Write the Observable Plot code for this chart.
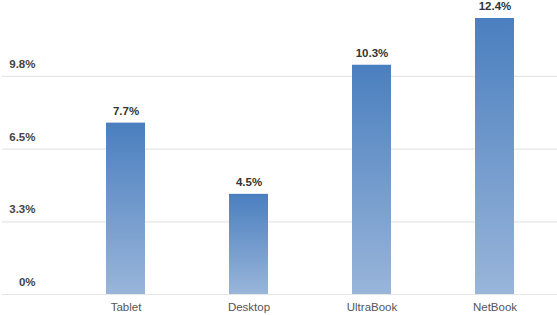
<!DOCTYPE html>
<html>
<head>
<meta charset="utf-8">
<script src="https://cdn.jsdelivr.net/npm/d3@7"></script>
<script src="https://cdn.jsdelivr.net/npm/@observablehq/plot@0.6"></script>
<style>
  html, body { margin: 0; padding: 0; background: #fff; }
  #chart svg { display: block; }
</style>
</head>
<body>
<div id="chart"></div>
<script>
const categories = ["Tablet", "Desktop", "UltraBook", "NetBook"];
const values = [7.7, 4.5, 10.3, 12.4];
const tickValues = [0, 9.8 / 3, 19.6 / 3, 9.8];
const tickLabels = ["0%", "3.3%", "6.5%", "9.8%"];

const data = categories.map((c, i) => ({ category: c, value: values[i] }));

const plot = Plot.plot({
  width: 557,
  height: 315,
  marginLeft: 63,
  marginRight: 1,
  marginTop: 18,
  marginBottom: 21,
  style: { fontFamily: "'Liberation Sans', Arial, sans-serif", fontSize: "11px", background: "#fff" },
  x: { domain: categories, paddingInner: 0.684, paddingOuter: 0.342, label: null },
  y: { domain: [0, 12.4], label: null },
  marks: [
    Plot.ruleY(tickValues, { stroke: "#e6e6e6", strokeWidth: 1.2, insetLeft: -61, insetRight: -1 }),
    Plot.barY(data, { x: "category", y: "value", fill: "url(#barGrad)" }),
    Plot.text(data, {
      x: "category", y: "value", text: d => d.value.toFixed(1) + "%",
      dy: -12, fill: "#333", fontWeight: "bold", fontSize: 11.5
    }),
    Plot.axisY({
      ticks: tickValues, tickFormat: (d, i) => tickLabels[i], tickSize: 0,
      tickPadding: 28, dy: -12, fontWeight: "bold", fill: "#444", fontSize: 11.5
    }),
    Plot.axisX({ tickSize: 0, tickPadding: 8, fill: "#555", fontSize: 11.5 })
  ]
});

const svg = d3.select(plot);
const defs = svg.insert("defs", ":first-child");
const grad = defs.append("linearGradient")
  .attr("id", "barGrad").attr("x1", 0).attr("y1", 0).attr("x2", 0).attr("y2", 1);
grad.append("stop").attr("offset", "0%").attr("stop-color", "#4a7fbf");
grad.append("stop").attr("offset", "100%").attr("stop-color", "#99b5da");

document.getElementById("chart").appendChild(plot);
</script>
</body>
</html>
